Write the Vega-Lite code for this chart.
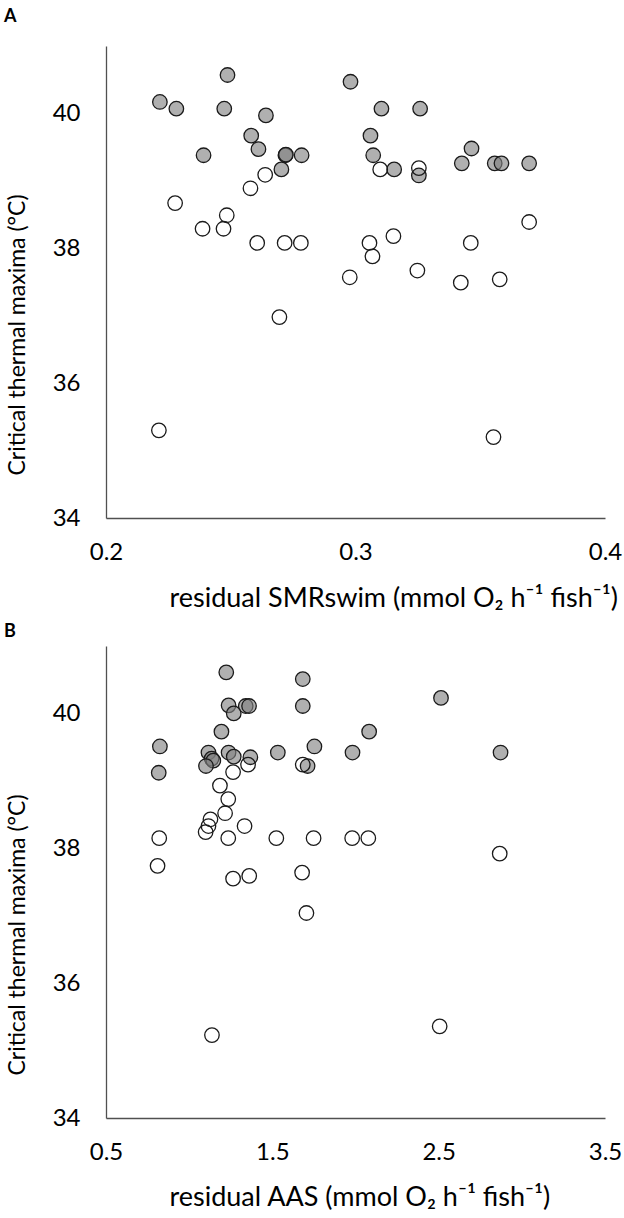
{
  "$schema": "https://vega.github.io/schema/vega-lite/v6.json",
  "description": "Critical thermal maxima against residual SMRswim (A) and residual AAS (B)",
  "background": "#ffffff",
  "padding": {"left": 4, "top": 8, "right": 0, "bottom": 0},
  "config": {
    "font": "Lato",
    "view": {"stroke": null},
    "axis": {
      "grid": false,
      "ticks": false,
      "labelFlush": false,
      "domainColor": "#505050",
      "domainWidth": 1.3,
      "labelFont": "Lato",
      "labelFontSize": 24,
      "labelColor": "#000000",
      "titleFont": "Lato",
      "titleFontSize": 27,
      "titleFontWeight": "normal",
      "titleColor": "#000000"
    },
    "title": {"font": "Lato", "fontSize": 18, "fontWeight": "bold", "color": "#000000", "anchor": "start", "frame": "group"}
  },
  "datasets": {
    "smr": [
      {"x": 0.2216, "ctmax": 40.17, "group": "filled"},
      {"x": 0.2282, "ctmax": 40.07, "group": "filled"},
      {"x": 0.2487, "ctmax": 40.57, "group": "filled"},
      {"x": 0.2474, "ctmax": 40.07, "group": "filled"},
      {"x": 0.2641, "ctmax": 39.97, "group": "filled"},
      {"x": 0.2391, "ctmax": 39.38, "group": "filled"},
      {"x": 0.2582, "ctmax": 39.67, "group": "filled"},
      {"x": 0.2611, "ctmax": 39.47, "group": "filled"},
      {"x": 0.2719, "ctmax": 39.38, "group": "filled"},
      {"x": 0.2721, "ctmax": 39.39, "group": "filled"},
      {"x": 0.2784, "ctmax": 39.38, "group": "filled"},
      {"x": 0.2703, "ctmax": 39.17, "group": "filled"},
      {"x": 0.298, "ctmax": 40.47, "group": "filled"},
      {"x": 0.3104, "ctmax": 40.07, "group": "filled"},
      {"x": 0.3259, "ctmax": 40.07, "group": "filled"},
      {"x": 0.306, "ctmax": 39.67, "group": "filled"},
      {"x": 0.3071, "ctmax": 39.38, "group": "filled"},
      {"x": 0.3155, "ctmax": 39.17, "group": "filled"},
      {"x": 0.3254, "ctmax": 39.08, "group": "filled"},
      {"x": 0.3465, "ctmax": 39.48, "group": "filled"},
      {"x": 0.3426, "ctmax": 39.26, "group": "filled"},
      {"x": 0.3558, "ctmax": 39.26, "group": "filled"},
      {"x": 0.3585, "ctmax": 39.26, "group": "filled"},
      {"x": 0.3696, "ctmax": 39.26, "group": "filled"},
      {"x": 0.2277, "ctmax": 38.67, "group": "open"},
      {"x": 0.2484, "ctmax": 38.49, "group": "open"},
      {"x": 0.2471, "ctmax": 38.29, "group": "open"},
      {"x": 0.2387, "ctmax": 38.29, "group": "open"},
      {"x": 0.2579, "ctmax": 38.89, "group": "open"},
      {"x": 0.2638, "ctmax": 39.09, "group": "open"},
      {"x": 0.2606, "ctmax": 38.08, "group": "open"},
      {"x": 0.2716, "ctmax": 38.08, "group": "open"},
      {"x": 0.2781, "ctmax": 38.08, "group": "open"},
      {"x": 0.3099, "ctmax": 39.17, "group": "open"},
      {"x": 0.3254, "ctmax": 39.19, "group": "open"},
      {"x": 0.3056, "ctmax": 38.08, "group": "open"},
      {"x": 0.3068, "ctmax": 37.88, "group": "open"},
      {"x": 0.3152, "ctmax": 38.18, "group": "open"},
      {"x": 0.2977, "ctmax": 37.57, "group": "open"},
      {"x": 0.3248, "ctmax": 37.67, "group": "open"},
      {"x": 0.3462, "ctmax": 38.08, "group": "open"},
      {"x": 0.3422, "ctmax": 37.49, "group": "open"},
      {"x": 0.3578, "ctmax": 37.54, "group": "open"},
      {"x": 0.3696, "ctmax": 38.39, "group": "open"},
      {"x": 0.2695, "ctmax": 36.98, "group": "open"},
      {"x": 0.2212, "ctmax": 35.3, "group": "open"},
      {"x": 0.3553, "ctmax": 35.2, "group": "open"}
    ],
    "aas": [
      {"x": 1.223, "ctmax": 40.61, "group": "filled"},
      {"x": 1.683, "ctmax": 40.51, "group": "filled"},
      {"x": 2.514, "ctmax": 40.23, "group": "filled"},
      {"x": 1.237, "ctmax": 40.12, "group": "filled"},
      {"x": 1.34, "ctmax": 40.11, "group": "filled"},
      {"x": 1.36, "ctmax": 40.11, "group": "filled"},
      {"x": 1.268, "ctmax": 40.0, "group": "filled"},
      {"x": 1.683, "ctmax": 40.11, "group": "filled"},
      {"x": 1.194, "ctmax": 39.73, "group": "filled"},
      {"x": 2.082, "ctmax": 39.73, "group": "filled"},
      {"x": 0.824, "ctmax": 39.51, "group": "filled"},
      {"x": 1.753, "ctmax": 39.51, "group": "filled"},
      {"x": 1.116, "ctmax": 39.42, "group": "filled"},
      {"x": 1.237, "ctmax": 39.42, "group": "filled"},
      {"x": 1.533, "ctmax": 39.42, "group": "filled"},
      {"x": 1.982, "ctmax": 39.42, "group": "filled"},
      {"x": 2.872, "ctmax": 39.42, "group": "filled"},
      {"x": 1.135, "ctmax": 39.33, "group": "filled"},
      {"x": 1.145, "ctmax": 39.3, "group": "filled"},
      {"x": 1.268, "ctmax": 39.36, "group": "filled"},
      {"x": 1.368, "ctmax": 39.35, "group": "filled"},
      {"x": 1.101, "ctmax": 39.22, "group": "filled"},
      {"x": 0.817, "ctmax": 39.12, "group": "filled"},
      {"x": 1.712, "ctmax": 39.22, "group": "filled"},
      {"x": 1.354, "ctmax": 39.24, "group": "open"},
      {"x": 1.683, "ctmax": 39.24, "group": "open"},
      {"x": 1.264, "ctmax": 39.13, "group": "open"},
      {"x": 1.185, "ctmax": 38.93, "group": "open"},
      {"x": 1.235, "ctmax": 38.73, "group": "open"},
      {"x": 1.216, "ctmax": 38.52, "group": "open"},
      {"x": 1.128, "ctmax": 38.43, "group": "open"},
      {"x": 1.116, "ctmax": 38.33, "group": "open"},
      {"x": 1.099, "ctmax": 38.24, "group": "open"},
      {"x": 1.333, "ctmax": 38.33, "group": "open"},
      {"x": 0.82, "ctmax": 38.15, "group": "open"},
      {"x": 1.235, "ctmax": 38.15, "group": "open"},
      {"x": 1.524, "ctmax": 38.15, "group": "open"},
      {"x": 1.748, "ctmax": 38.15, "group": "open"},
      {"x": 1.98, "ctmax": 38.15, "group": "open"},
      {"x": 2.077, "ctmax": 38.15, "group": "open"},
      {"x": 2.867, "ctmax": 37.92, "group": "open"},
      {"x": 0.81, "ctmax": 37.74, "group": "open"},
      {"x": 1.264, "ctmax": 37.55, "group": "open"},
      {"x": 1.361, "ctmax": 37.59, "group": "open"},
      {"x": 1.679, "ctmax": 37.64, "group": "open"},
      {"x": 1.705, "ctmax": 37.04, "group": "open"},
      {"x": 1.137, "ctmax": 35.23, "group": "open"},
      {"x": 2.506, "ctmax": 35.36, "group": "open"}
    ]
  },
  "spacing": 128,
  "bounds": "flush",
  "vconcat": [
    {
      "title": {"text": "A", "dx": -102, "offset": 20, "fontSize": 18, "fontWeight": "bold"},
      "width": 499,
      "height": 472,
      "data": {"name": "smr"},
      "mark": {"type": "circle", "size": 210, "stroke": "#1a1a1a", "strokeWidth": 1.3, "opacity": 1},
      "encoding": {
        "x": {
          "field": "x",
          "type": "quantitative",
          "scale": {"domain": [0.2, 0.4], "nice": false, "zero": false},
          "axis": {
            "values": [0.2, 0.3, 0.4],
            "format": ".1f",
            "labelPadding": 22,
            "title": "residual SMRswim (mmol O₂ h⁻¹ fish⁻¹)",
            "titleAlign": "left",
            "titleX": 63,
            "titleY": 88,
            "titleBaseline": "alphabetic"
          }
        },
        "y": {
          "field": "ctmax",
          "type": "quantitative",
          "scale": {"domain": [34, 41], "nice": false, "zero": false},
          "axis": {
            "values": [34, 36, 38, 40],
            "labelPadding": 26,
            "title": "Critical thermal maxima (°C)",
            "titleFontSize": 23,
            "titleAlign": "left",
            "titleX": -89,
            "titleY": 429,
            "titleBaseline": "middle",
            "titleAngle": -90
          }
        },
        "fill": {
          "field": "group",
          "type": "nominal",
          "scale": {"domain": ["filled", "open"], "range": ["#808080", "#ffffff"]},
          "legend": null
        },
        "fillOpacity": {
          "field": "group",
          "type": "nominal",
          "scale": {"domain": ["filled", "open"], "range": [0.62, 0]},
          "legend": null
        }
      }
    },
    {
      "title": {"text": "B", "dx": -102, "offset": 5, "fontSize": 18, "fontWeight": "bold"},
      "width": 499,
      "height": 472,
      "data": {"name": "aas"},
      "mark": {"type": "circle", "size": 210, "stroke": "#1a1a1a", "strokeWidth": 1.3, "opacity": 1},
      "encoding": {
        "x": {
          "field": "x",
          "type": "quantitative",
          "scale": {"domain": [0.5, 3.5], "nice": false, "zero": false},
          "axis": {
            "values": [0.5, 1.5, 2.5, 3.5],
            "format": ".1f",
            "labelPadding": 22,
            "title": "residual AAS (mmol O₂ h⁻¹ fish⁻¹)",
            "titleAlign": "left",
            "titleX": 63,
            "titleY": 87,
            "titleBaseline": "alphabetic"
          }
        },
        "y": {
          "field": "ctmax",
          "type": "quantitative",
          "scale": {"domain": [34, 41], "nice": false, "zero": false},
          "axis": {
            "values": [34, 36, 38, 40],
            "labelPadding": 26,
            "title": "Critical thermal maxima (°C)",
            "titleFontSize": 23,
            "titleAlign": "left",
            "titleX": -89,
            "titleY": 429,
            "titleBaseline": "middle",
            "titleAngle": -90
          }
        },
        "fill": {
          "field": "group",
          "type": "nominal",
          "scale": {"domain": ["filled", "open"], "range": ["#808080", "#ffffff"]},
          "legend": null
        },
        "fillOpacity": {
          "field": "group",
          "type": "nominal",
          "scale": {"domain": ["filled", "open"], "range": [0.62, 0]},
          "legend": null
        }
      }
    }
  ],
  "resolve": {"scale": {"x": "independent", "fill": "shared", "fillOpacity": "shared"}}
}
